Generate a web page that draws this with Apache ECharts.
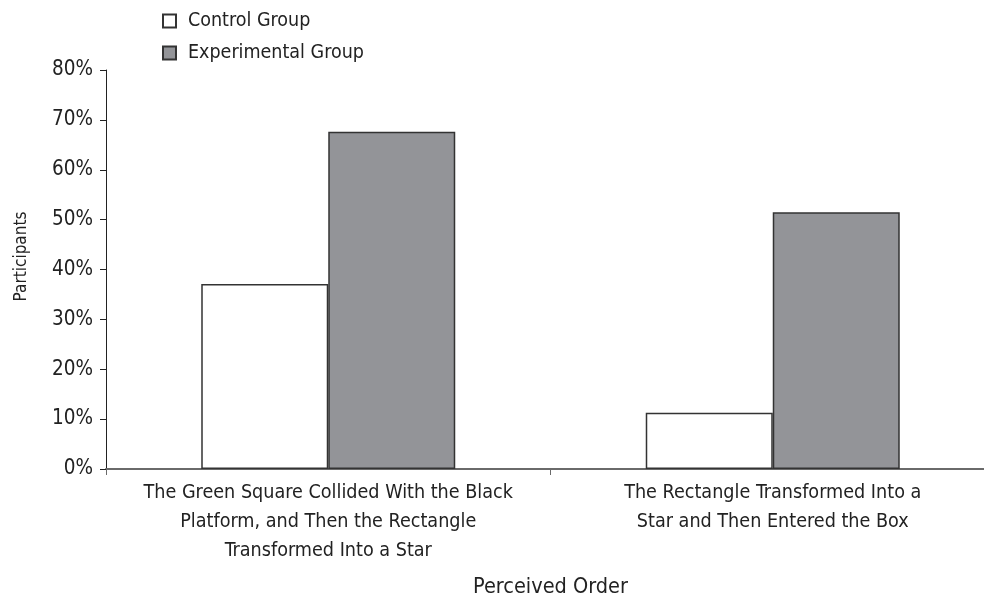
<!DOCTYPE html>
<html>
<head>
<meta charset="utf-8">
<script src="https://cdn.jsdelivr.net/npm/echarts@6/dist/echarts.min.js"></script>
<style>html,body{margin:0;padding:0;background:#fff}#c{width:984px;height:601px}</style>
</head>
<body>
<div id="c"></div>
<script>
const categories = [
  "The Green Square Collided With the Black\nPlatform, and Then the Rectangle\nTransformed Into a Star",
  "The Rectangle Transformed Into a\nStar and Then Entered the Box"
];
const controlValues = [37.1, 11.3];
const experimentalValues = [67.6, 51.5];
const seriesNames = ["Control Group", "Experimental Group"];
const yTicks = [0, 10, 20, 30, 40, 50, 60, 70, 80];

const FONT = '"Liberation Sans Narrow", "Arial Narrow", "DejaVu Sans Condensed", sans-serif';
const chart = echarts.init(document.getElementById('c'), null, {renderer: 'canvas'});
chart.setOption({
  animation: false,
  backgroundColor: '#fff',
  textStyle: {fontFamily: FONT, color: '#222'},
  legend: {
    orient: 'vertical',
    left: 157, top: 6,
    itemWidth: 13, itemHeight: 13, itemGap: 12,
    icon: 'rect',
    textStyle: {fontFamily: FONT, fontSize: 19.5, color: '#222', padding: [0, 0, 0, 7]},
    data: seriesNames
  },
  grid: {left: 106, top: 70, bottom: 132, right: -11, containLabel: false, outerBoundsMode: 'none'},
  xAxis: {
    type: 'category',
    data: categories,
    name: 'Perceived Order',
    nameLocation: 'middle',
    nameGap: 107,
    nameTextStyle: {fontFamily: FONT, fontSize: 21.5, color: '#222'},
    axisLine: {lineStyle: {color: '#6a6a6a', width: 2}},
    axisTick: {show: true, length: 6, lineStyle: {color: '#6a6a6a'}},
    axisLabel: {fontFamily: FONT, fontSize: 19.6, color: '#222', lineHeight: 29, margin: 9, interval: 0}
  },
  yAxis: {
    type: 'value',
    min: yTicks[0], max: yTicks[yTicks.length - 1], interval: 10,
    name: 'Participants',
    nameLocation: 'middle',
    nameGap: 76,
    nameRotate: 90,
    nameTextStyle: {fontFamily: FONT, fontSize: 17, color: '#222', padding: [0, 0, 0, 26]},
    axisLine: {show: true, lineStyle: {color: '#222', width: 1}},
    axisTick: {show: true, length: 6, inside: false, lineStyle: {color: '#222'}},
    splitLine: {show: false},
    axisLabel: {fontFamily: FONT, fontSize: 20.5, color: '#222', margin: 13, formatter: '{value}%'}
  },
  series: [
    {
      name: seriesNames[0], type: 'bar', data: controlValues,
      barWidth: 127, barGap: '0%',
      itemStyle: {color: '#ffffff', borderColor: '#333', borderWidth: 1.5}
    },
    {
      name: seriesNames[1], type: 'bar', data: experimentalValues,
      barWidth: 127, barGap: '0%',
      itemStyle: {color: '#939498', borderColor: '#333', borderWidth: 1.5}
    }
  ]
});
</script>
</body>
</html>
